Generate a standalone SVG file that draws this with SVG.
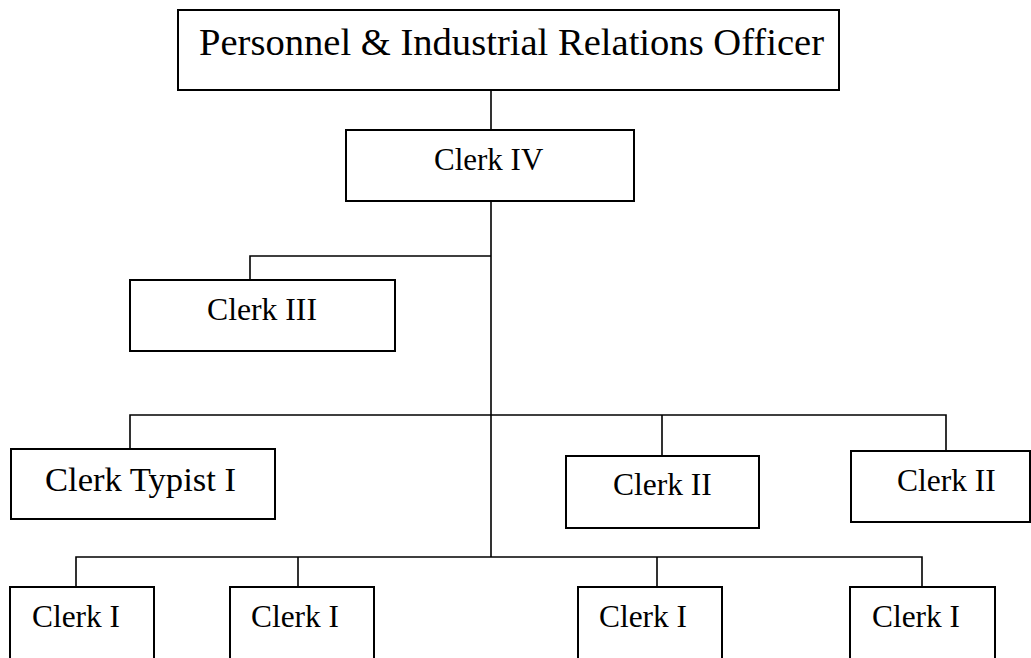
<svg xmlns="http://www.w3.org/2000/svg" width="1031" height="658" viewBox="0 0 1031 658">
<style>
.box{fill:#fff;stroke:#000;stroke-width:2}
.ln{fill:none;stroke:#000;stroke-width:1.6}
text{font-family:"Liberation Serif","Times New Roman",serif;fill:#000}
</style>
<rect width="1031" height="658" fill="#fff"/>
<g id="connectors">
<path class="ln" d="M491 90V130M491 201V557"/>
<path class="ln" d="M491 256H250V280"/>
<path class="ln" d="M130 449V415H946V451M662 415V456"/>
<path class="ln" d="M76 587V557H922V587M298 557V587M657 557V587"/>
</g>
<g id="n-officer"><rect class="box" x="178" y="10" width="661" height="80"/><text x="199" y="55" font-size="38.6">Personnel &amp; Industrial Relations Officer</text></g>
<g id="n-clerk4"><rect class="box" x="346" y="130" width="288" height="71"/><text x="434" y="170" font-size="31">Clerk IV</text></g>
<g id="n-clerk3"><rect class="box" x="130" y="280" width="265" height="71"/><text x="207" y="320" font-size="31.7">Clerk III</text></g>
<g id="n-typist"><rect class="box" x="11" y="449" width="264" height="70"/><text x="45" y="491" font-size="34.6">Clerk Typist I</text></g>
<g id="n-clerk2a"><rect class="box" x="566" y="456" width="193" height="72"/><text x="613" y="495" font-size="31.5">Clerk II</text></g>
<g id="n-clerk2b"><rect class="box" x="851" y="451" width="179" height="71"/><text x="897" y="491" font-size="31.5">Clerk II</text></g>
<g id="n-clerk1a"><rect class="box" x="10" y="587" width="144" height="80"/><text x="32" y="627" font-size="31.4">Clerk I</text></g>
<g id="n-clerk1b"><rect class="box" x="230" y="587" width="144" height="80"/><text x="251" y="627" font-size="31.4">Clerk I</text></g>
<g id="n-clerk1c"><rect class="box" x="578" y="587" width="144" height="80"/><text x="599" y="627" font-size="31.4">Clerk I</text></g>
<g id="n-clerk1d"><rect class="box" x="850" y="587" width="145" height="80"/><text x="872" y="627" font-size="31.4">Clerk I</text></g>
</svg>
